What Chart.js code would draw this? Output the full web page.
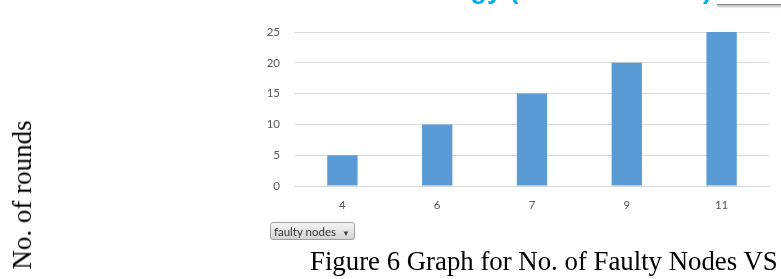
<!DOCTYPE html>
<html><head><meta charset="utf-8">
<script src="https://cdn.jsdelivr.net/npm/chart.js@4"></script>
<style>
html,body{margin:0;padding:0;background:#fff;overflow:hidden;}
#wrap{position:relative;width:781px;height:279px;}
#c{position:absolute;left:0;top:0;}
.title{position:absolute;left:292px;top:-26px;width:420px;text-align:right;font:bold 27px "Liberation Sans",Arial,sans-serif;color:#00b0f0;white-space:nowrap;}
.shadowbox{position:absolute;left:717px;top:-20px;width:70px;height:24px;border-bottom:1px solid #888;box-shadow:0 2px 2px rgba(0,0,0,0.25);background:#fff;}
.btn{position:absolute;left:270px;top:222px;height:18px;border:1px solid #a0a0a0;border-radius:3px;background:linear-gradient(#f4f4f4,#d4d4d4);font:11.5px Lato,"Open Sans",sans-serif;color:#333;line-height:17px;padding-left:3px;box-sizing:border-box;width:85px;}
.btn span{font-size:8px;margin-left:6px;color:#444;}
.cap{position:absolute;left:310px;top:248px;font:26.8px/27px "Liberation Serif","Times New Roman",serif;color:#000;white-space:nowrap;}
.ylab{position:absolute;left:22px;top:195px;transform:translate(-50%,-50%) rotate(-90deg);font:27px/28px "Liberation Serif","Times New Roman",serif;color:#000;white-space:nowrap;}
</style></head>
<body><div id="wrap">
<canvas id="c" width="781" height="279"></canvas>
<div class="title">Energy (No. of Rounds)</div>
<div class="shadowbox"></div>
<div class="btn">faulty nodes<span>&#9660;</span></div>
<div class="cap">Figure 6 Graph for No. of Faulty Nodes VS</div>
<div class="ylab">No. of rounds</div>
</div>
<script>
const categories = ["4","6","7","9","11"];
const rounds = [5,10,15,20,25];
const yTicks = [0,5,10,15,20,25];

new Chart(document.getElementById('c'), {
  type: 'bar',
  data: { labels: categories, datasets: [{ data: rounds, backgroundColor: '#5b9bd5', borderWidth: 0, categoryPercentage: 1, barPercentage: 0.32 }] },
  options: {
    responsive: false, animation: false,
    layout: { padding: { left: 250, right: 12, top: 32, bottom: 63 } },
    plugins: { legend: { display: false }, tooltip: { enabled: false } },
    scales: {
      x: {
        grid: { display: false, drawTicks: false },
        border: { display: true, color: '#d9d9d9', width: 1 },
        ticks: { color: '#595959', font: { family: 'Lato', size: 11.5 }, padding: 12 },
        afterFit: s => { s.height = 30; }
      },
      y: {
        min: 0, max: 25,
        afterBuildTicks: s => { s.ticks = yTicks.map(v => ({ value: v })); },
        grid: { color: '#d9d9d9', drawTicks: false, lineWidth: 1 },
        border: { display: false },
        ticks: { color: '#595959', font: { family: 'Lato', size: 11.5 }, padding: 15 },
        afterFit: s => { s.width = 45; }
      }
    }
  }
});
</script>
</body></html>
